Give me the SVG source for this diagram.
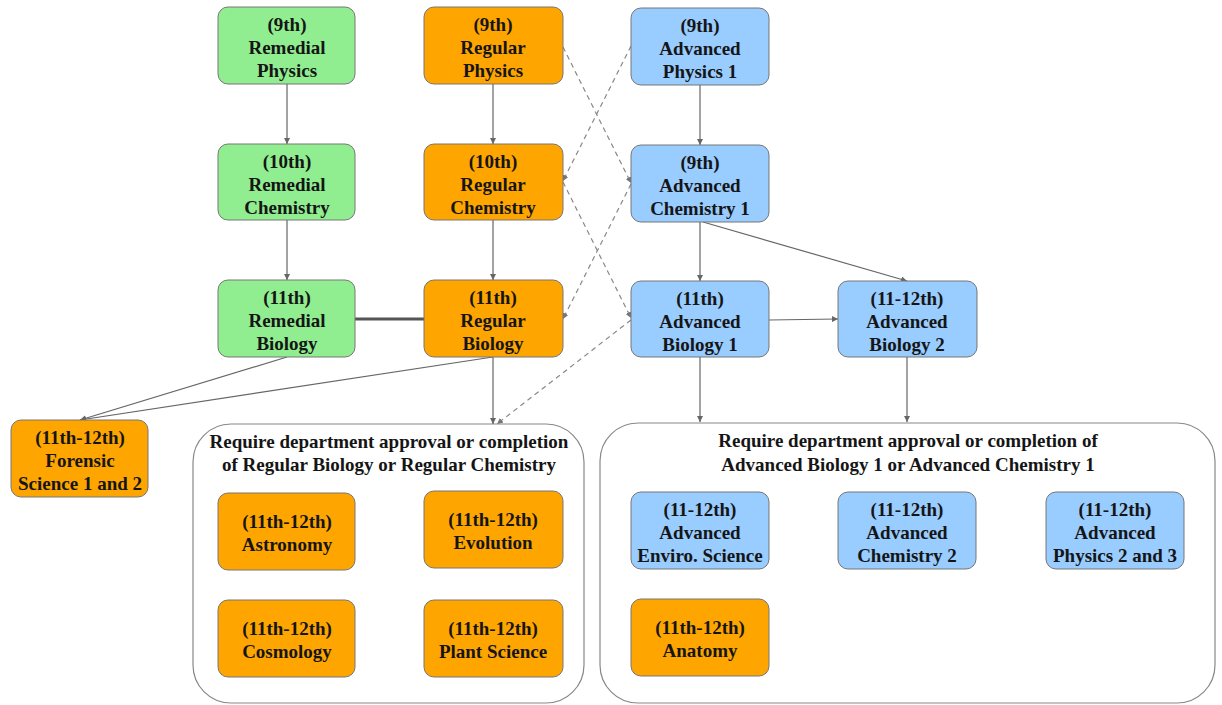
<svg xmlns="http://www.w3.org/2000/svg" width="1222" height="705" viewBox="0 0 1222 705">
<style>
.n rect{stroke:#777;stroke-width:1}
.g{fill:#90ee90}
.o{fill:#ffa500}
.b{fill:#99ccff}
text{font-family:'Liberation Serif','Times New Roman',serif;font-weight:bold;font-size:19px;fill:#151515;text-anchor:middle}
.c{fill:#fff;stroke:#888;stroke-width:1.2}
.e{fill:none;stroke:#666;stroke-width:1.2}
.d{fill:none;stroke:#888;stroke-width:1.2;stroke-dasharray:5 4}
</style>
<defs>
<marker id="a" viewBox="0 0 10 10" refX="10" refY="5" markerWidth="6" markerHeight="6" markerUnits="userSpaceOnUse" orient="auto"><path d="M0,0L10,5L0,10z" fill="#666"/></marker>
<marker id="ad" viewBox="0 0 10 10" refX="10" refY="5" markerWidth="6" markerHeight="6" markerUnits="userSpaceOnUse" orient="auto"><path d="M0,0L10,5L0,10z" fill="#777"/></marker>
</defs>
<rect width="1222" height="705" fill="#fff"/>
<g id="containers">
<g id="group-regular"><rect class="c" x="193" y="424" width="391" height="279" rx="38"/>
<text x="389" y="448">Require department approval or completion</text>
<text x="389" y="471">of  Regular Biology or Regular Chemistry</text></g>
<g id="group-advanced"><rect class="c" x="600" y="423" width="615" height="280" rx="38"/>
<text x="908" y="447">Require department approval or completion of</text>
<text x="908" y="471">Advanced Biology 1 or Advanced Chemistry 1</text></g>
</g>
<g id="connectors">
<path class="e" d="M287,84V144" marker-end="url(#a)"/>
<path class="e" d="M287,220V280" marker-end="url(#a)"/>
<path class="e" d="M493,84V144" marker-end="url(#a)"/>
<path class="e" d="M493,220V280" marker-end="url(#a)"/>
<path class="e" d="M700,85V145" marker-end="url(#a)"/>
<path class="e" d="M700,222V281" marker-end="url(#a)"/>
<path class="e" d="M703,222L907,281" marker-end="url(#a)"/>
<path class="e" d="M769,320L838,319" marker-end="url(#a)"/>
<path class="e" d="M700,357V422" marker-end="url(#a)"/>
<path class="e" d="M907,357V422" marker-end="url(#a)"/>
<path class="e" d="M493,357V424" marker-end="url(#a)"/>
<path class="e" d="M287,357L80,420" marker-end="url(#a)"/>
<path class="e" d="M493,357L80,420" marker-end="url(#a)"/>
<path fill="none" stroke="#555" stroke-width="3" d="M355,319H424"/>
<path class="d" d="M563,47L631,183" marker-end="url(#ad)"/>
<path class="d" d="M631,46L563,181" marker-end="url(#ad)"/>
<path class="d" d="M563,182L631,318" marker-end="url(#ad)"/>
<path class="d" d="M631,184L563,319" marker-end="url(#ad)"/>
<path class="d" d="M631,320L497,424" marker-end="url(#ad)"/>
</g>
<g id="remedial-physics" class="n"><rect class="g" x="218" y="7" width="137" height="77" rx="10"/><text x="287" y="31">(9th)</text><text x="287" y="54">Remedial</text><text x="287" y="77">Physics</text></g>
<g id="regular-physics" class="n"><rect class="o" x="424" y="7" width="139" height="77" rx="10"/><text x="493" y="31">(9th)</text><text x="493" y="54">Regular</text><text x="493" y="77">Physics</text></g>
<g id="advanced-physics-1" class="n"><rect class="b" x="631" y="8" width="138" height="77" rx="10"/><text x="700" y="32">(9th)</text><text x="700" y="55">Advanced</text><text x="700" y="78">Physics 1</text></g>
<g id="remedial-chemistry" class="n"><rect class="g" x="218" y="144" width="137" height="76" rx="10"/><text x="287" y="168">(10th)</text><text x="287" y="191">Remedial</text><text x="287" y="214">Chemistry</text></g>
<g id="regular-chemistry" class="n"><rect class="o" x="424" y="144" width="139" height="76" rx="10"/><text x="493" y="168">(10th)</text><text x="493" y="191">Regular</text><text x="493" y="214">Chemistry</text></g>
<g id="advanced-chemistry-1" class="n"><rect class="b" x="631" y="145" width="138" height="77" rx="10"/><text x="700" y="169">(9th)</text><text x="700" y="192">Advanced</text><text x="700" y="215">Chemistry 1</text></g>
<g id="remedial-biology" class="n"><rect class="g" x="218" y="280" width="137" height="77" rx="10"/><text x="287" y="304">(11th)</text><text x="287" y="327">Remedial</text><text x="287" y="350">Biology</text></g>
<g id="regular-biology" class="n"><rect class="o" x="424" y="280" width="139" height="77" rx="10"/><text x="493" y="304">(11th)</text><text x="493" y="327">Regular</text><text x="493" y="350">Biology</text></g>
<g id="advanced-biology-1" class="n"><rect class="b" x="631" y="281" width="138" height="76" rx="10"/><text x="700" y="305">(11th)</text><text x="700" y="328">Advanced</text><text x="700" y="351">Biology 1</text></g>
<g id="advanced-biology-2" class="n"><rect class="b" x="838" y="281" width="139" height="76" rx="10"/><text x="907" y="305">(11-12th)</text><text x="907" y="328">Advanced</text><text x="907" y="351">Biology 2</text></g>
<g id="forensic-science" class="n"><rect class="o" x="11" y="420" width="137" height="77" rx="10"/><text x="80" y="444">(11th-12th)</text><text x="80" y="467">Forensic</text><text x="80" y="490">Science 1 and 2</text></g>
<g id="astronomy" class="n"><rect class="o" x="218" y="493" width="137" height="77" rx="10"/><text x="287" y="528">(11th-12th)</text><text x="287" y="551">Astronomy</text></g>
<g id="evolution" class="n"><rect class="o" x="424" y="491" width="139" height="77" rx="10"/><text x="493" y="526">(11th-12th)</text><text x="493" y="549">Evolution</text></g>
<g id="cosmology" class="n"><rect class="o" x="218" y="600" width="137" height="77" rx="10"/><text x="287" y="635">(11th-12th)</text><text x="287" y="658">Cosmology</text></g>
<g id="plant-science" class="n"><rect class="o" x="424" y="600" width="139" height="77" rx="10"/><text x="493" y="635">(11th-12th)</text><text x="493" y="658">Plant Science</text></g>
<g id="advanced-enviro-science" class="n"><rect class="b" x="631" y="492" width="138" height="77" rx="10"/><text x="700" y="516">(11-12th)</text><text x="700" y="539">Advanced</text><text x="700" y="562">Enviro. Science</text></g>
<g id="advanced-chemistry-2" class="n"><rect class="b" x="838" y="492" width="138" height="77" rx="10"/><text x="907" y="516">(11-12th)</text><text x="907" y="539">Advanced</text><text x="907" y="562">Chemistry 2</text></g>
<g id="advanced-physics-2-3" class="n"><rect class="b" x="1046" y="492" width="138" height="77" rx="10"/><text x="1115" y="516">(11-12th)</text><text x="1115" y="539">Advanced</text><text x="1115" y="562">Physics 2 and 3</text></g>
<g id="anatomy" class="n"><rect class="o" x="631" y="599" width="138" height="77" rx="10"/><text x="700" y="634">(11th-12th)</text><text x="700" y="657">Anatomy</text></g>
</svg>
